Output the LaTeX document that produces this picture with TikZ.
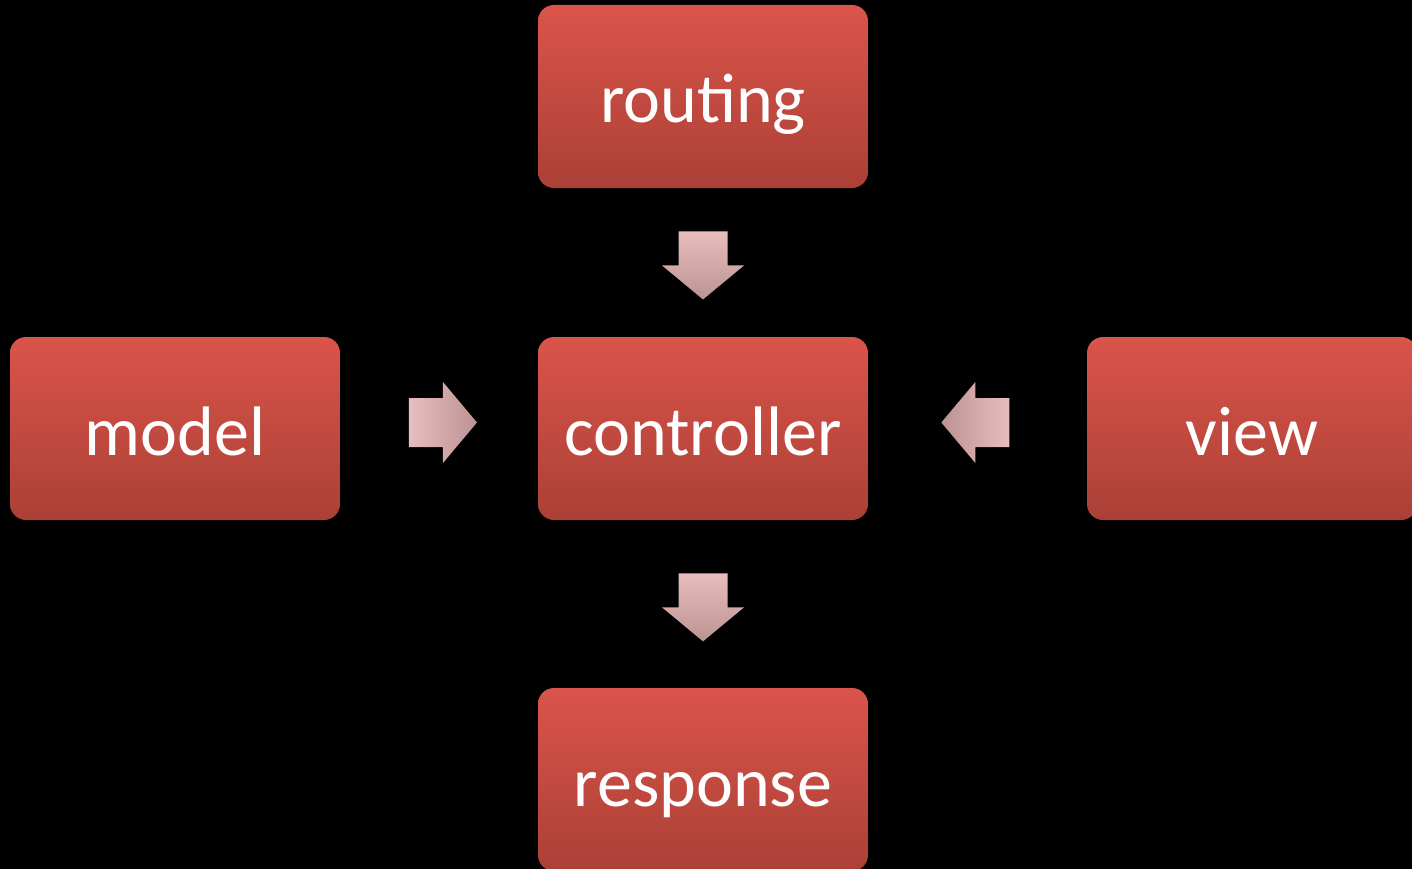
\documentclass[tikz,border=0pt]{standalone}
\usepackage{fontspec}
\setmainfont{Carlito}
\usetikzlibrary{calc}
\definecolor{boxtop}{HTML}{DA544A}
\definecolor{boxbot}{HTML}{AB4036}
\definecolor{arlight}{HTML}{E8BDBD}
\definecolor{ardark}{HTML}{BC9393}
\begin{document}
\begin{tikzpicture}[x=1pt,y=-1pt,
  box/.style={rectangle, rounded corners=16pt, top color=boxtop, bottom color=boxbot,
    minimum width=330pt, minimum height=183pt, inner sep=0pt, text=white,
    font=\fontsize{70}{84}\selectfont, text height=60pt, text depth=7pt},
  downarr/.style={top color=arlight, bottom color=ardark},
  rightarr/.style={left color=arlight, right color=ardark},
  leftarr/.style={left color=ardark, right color=arlight}]
\useasboundingbox (0,0) rectangle (1412,869);
\fill[black] (0,0) rectangle (1412,869);
\clip (0,0) rectangle (1412,869);
\node[box] (routing) at (703,96.5) {routing};
\node[box] (controller) at (703,428.5) {controller};
\node[box] (model) at (175,428.5) {model};
\node[box] (view) at (1252,428.5) {view};
\node[box] (response) at (703,779.5) {response};
\coordinate (c1) at ($(routing.south)!0.52!(controller.north)$);
\coordinate (c2) at ($(model.east)!0.52!(controller.west)+(0,-6)$);
\coordinate (c3) at ($(view.west)!0.51!(controller.east)+(0,-6)$);
\coordinate (c4) at ($(controller.south)!0.52!(response.north)$);
\path[downarr] ($(c1)+(-24.5,-34)$) -- ++(49,0) -- ++(0,34) -- ++(16.5,0) -- ++(-41,34) -- ++(-41,-34) -- ++(16.5,0) -- cycle;
\path[downarr] ($(c4)+(-24.5,-34)$) -- ++(49,0) -- ++(0,34) -- ++(16.5,0) -- ++(-41,34) -- ++(-41,-34) -- ++(16.5,0) -- cycle;
\path[rightarr] ($(c2)+(-34,-24.5)$) -- ++(34,0) -- ++(0,-16) -- ++(34,40.5) -- ++(-34,40.5) -- ++(0,-16) -- ++(-34,0) -- cycle;
\path[leftarr] ($(c3)+(34,-24.5)$) -- ++(-34,0) -- ++(0,-16) -- ++(-34,40.5) -- ++(34,40.5) -- ++(0,-16) -- ++(34,0) -- cycle;
\end{tikzpicture}
\end{document}
